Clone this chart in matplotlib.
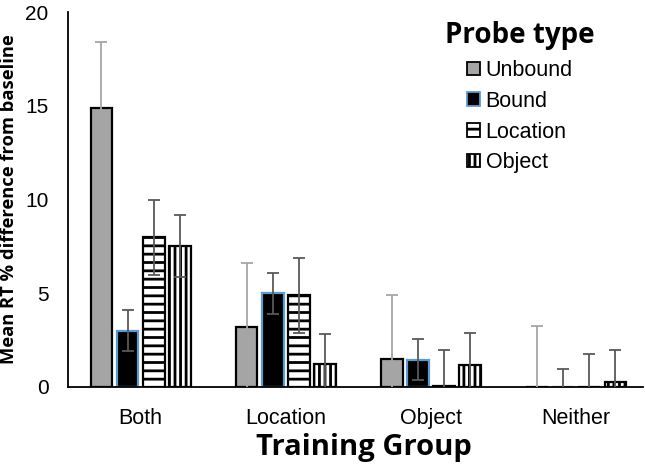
import numpy as np
import matplotlib.pyplot as plt
from matplotlib.patches import Patch

groups = ['Both', 'Location', 'Object', 'Neither']
probe_types = ['Unbound', 'Bound', 'Location', 'Object']

unbound = [14.9, 3.2, 1.5, 0.0]
unbound_err = [3.5, 3.4, 3.4, 3.25]
bound = [3.0, 5.0, 1.45, 0.0]
bound_err = [1.1, 1.1, 1.1, 0.98]
location = [8.0, 4.9, 0.05, 0.0]
location_err = [2.0, 2.0, 1.95, 1.78]
obj = [7.5, 1.25, 1.2, 0.28]
obj_err = [1.65, 1.6, 1.7, 1.7]

TICK_FONT = 'Liberation Sans'
BOLD_FONT = 'Open Sans'


def plot_probe_chart():
    plt.rcParams['hatch.linewidth'] = 2.0
    fig = plt.figure(figsize=(6.45, 4.68), dpi=100)
    ax = fig.add_axes([68 / 645, 1 - 387 / 468, 575 / 645, 375 / 468])

    x = np.arange(len(groups))
    width = 0.15
    step = 0.18
    offsets = [-1.5 * step, -0.5 * step, 0.5 * step, 1.5 * step]

    series = [
        (unbound, unbound_err, dict(facecolor='#a5a5a5', edgecolor='black'), '#a6a6a6'),
        (bound, bound_err, dict(facecolor='black', edgecolor='#5b9bd5'), '#595959'),
        (location, location_err, dict(facecolor='white', edgecolor='black', hatch='--'), '#595959'),
        (obj, obj_err, dict(facecolor='white', edgecolor='black', hatch='|||'), '#595959'),
    ]
    handles = []
    for (vals, errs, style, ecol), off, name in zip(series, offsets, probe_types):
        ax.bar(x + off, vals, width, linewidth=1.6, zorder=2, **style)
        ax.errorbar(x + off, vals, yerr=errs, fmt='none', ecolor=ecol,
                    elinewidth=1.3, capsize=4.5, capthick=1.3, zorder=3)
        handles.append(Patch(label=name, linewidth=1.3, **style))

    ax.set_xlim(-0.5, 3.46)
    ax.set_ylim(0, 20)
    ax.set_yticks([0, 5, 10, 15, 20])
    ax.set_xticks(x)
    ax.set_xticklabels(groups, fontsize=15.5, family=TICK_FONT)
    for lab in ax.get_yticklabels():
        lab.set_fontsize(15)
        lab.set_family(TICK_FONT)
    ax.tick_params(axis='both', length=0)
    ax.tick_params(axis='y', pad=14)
    ax.tick_params(axis='x', pad=15)
    for side in ['top', 'right']:
        ax.spines[side].set_visible(False)
    ax.spines['left'].set_linewidth(1.3)
    ax.spines['bottom'].set_linewidth(1.3)

    ax.set_xlabel('Training Group', fontsize=21, fontweight='bold', family=BOLD_FONT)
    ax.xaxis.set_label_coords(0.515, -46 / 375)
    ax.set_ylabel('Mean RT % difference from baseline', fontsize=13.2, fontweight='bold',
                  family=BOLD_FONT)
    ax.yaxis.set_label_coords(-50 / 575, 0.5)

    ax.legend(handles=handles, loc='upper left', bbox_to_anchor=(0.63, 1.015),
              frameon=False, prop={'family': TICK_FONT, 'size': 15.5},
              title='Probe type',
              title_fontproperties={'family': BOLD_FONT, 'weight': 'bold', 'size': 20},
              handlelength=0.6, handleheight=0.6, handletextpad=0.25,
              labelspacing=0.45, borderpad=0.2)

    fig.savefig('out.png', dpi=100)


if __name__ == '__main__':
    plot_probe_chart()
